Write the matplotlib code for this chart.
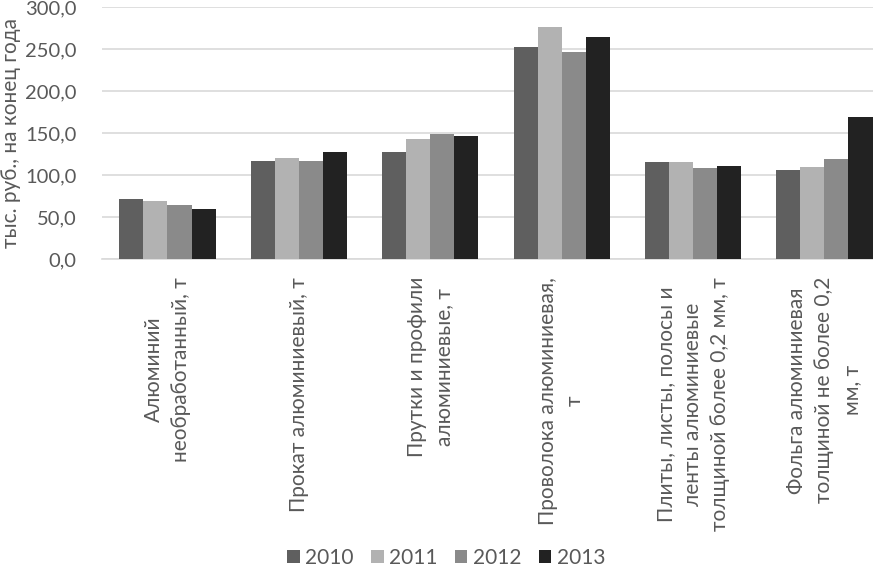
import matplotlib
matplotlib.use("Agg")
from matplotlib import pyplot as plt
import numpy as np

plt.rcParams['font.family'] = ['Lato', 'DejaVu Sans']

categories = [
    "Алюминий\nнеобработанный, т",
    "Прокат алюминиевый, т",
    "Прутки и профили\nалюминиевые, т",
    "Проволока алюминиевая,\nт",
    "Плиты, листы, полосы и\nленты алюминиевые\nтолщиной более 0,2 мм, т",
    "Фольга алюминиевая\nтолщиной не более 0,2\nмм, т",
]
years = ["2010", "2011", "2012", "2013"]
v2010 = [71, 117, 127, 252, 115, 106]
v2011 = [69, 120, 143, 276, 115, 110]
v2012 = [64, 117, 149, 246, 108, 119]
v2013 = [59, 127, 146, 264, 111, 169]
colors = ["#5f5f5f", "#b2b2b2", "#8a8a8a", "#222222"]

fig = plt.figure(figsize=(8.73, 5.69), dpi=100)
ax = fig.add_axes([0.1166, 0.5448, 0.903, 0.4429])

x = np.arange(len(categories))
w = 0.183
for i, vals in enumerate([v2010, v2011, v2012, v2013]):
    ax.bar(x + (i - 1.5) * w, vals, w, color=colors[i], label=years[i], zorder=3)

ax.set_xlim(-0.5, 5.5)
ax.set_ylim(0, 300)
ax.set_yticks(np.arange(0, 301, 50))
ax.set_yticklabels([f"{t:.1f}".replace(".", ",") for t in np.arange(0, 301, 50)])
ax.yaxis.grid(True, color="#d9d9d9", linewidth=1.2, zorder=0)
for s in ["top", "right", "left"]:
    ax.spines[s].set_visible(False)
ax.spines["bottom"].set_color("#d9d9d9")
ax.spines["bottom"].set_linewidth(1.2)
ax.tick_params(axis="y", length=0, pad=18, labelsize=14.5, labelcolor="#595959")
ax.tick_params(axis="x", length=0, pad=13, labelsize=15, labelcolor="#595959")
ax.set_xticks(x)
ax.set_xticklabels(categories, rotation=90, ha="center", va="top",
                   multialignment="center", linespacing=1.45)
ax.set_ylabel("тыс. руб., на конец года", fontsize=15, color="#595959")
ax.yaxis.set_label_coords(-0.103, 0.5)

fig.legend(loc="center", bbox_to_anchor=(0.511, 0.02), ncol=4, frameon=False,
           fontsize=15, handlelength=0.6, handleheight=0.6, handletextpad=0.25,
           columnspacing=0.85, labelcolor="#595959", borderpad=0.2)

fig.savefig("out.png", dpi=100)
